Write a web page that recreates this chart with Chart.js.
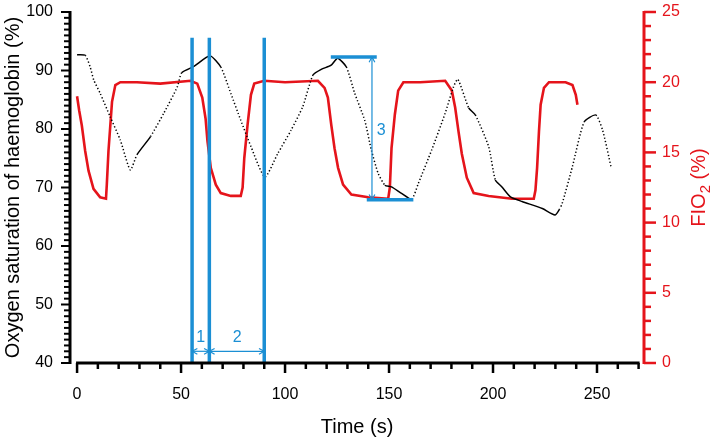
<!DOCTYPE html>
<html>
<head>
<meta charset="utf-8">
<script src="https://cdn.jsdelivr.net/npm/chart.js@4.4.0/dist/chart.umd.min.js"></script>
<style>
    body { margin: 0; background: #fff; }
</style>
</head>
<body>
<canvas id="myChart" width="722" height="440"></canvas>
<script>
// oxygen saturation (left axis)
const spo2Time = [0, 3.9, 6.3, 8, 11.1, 15.9, 20.8, 25.6, 28.8, 35.3, 41.7, 48.2, 50.3, 56.2, 63.9,
    69.1, 73.9, 78.7, 83.6, 90.3, 96.5, 102.9, 108.5, 113.4, 117.4, 122.2, 125.3, 129.5, 133.5,
    138.3, 141.5, 144.8, 148, 151.2, 156, 160.9, 164.1, 170.5, 177, 181, 183.1, 188.3, 191.5,
    197.9, 201.1, 204.3, 208.4, 214, 223.7, 229.8, 231.8, 233.3, 238.2, 243.8, 249.4, 252.7, 256.7];
const spo2Values = [92.7, 92.6, 90.6, 88.4, 86.1, 82.1, 78.1, 73.0, 75.6, 78.7, 82.7, 87.2, 89.6, 90.7, 92.5,
    90.6, 86.1, 81.5, 77.0, 71.8, 75.8, 79.8, 83.8, 89.2, 90.2, 90.9, 92.1, 90.6, 86.1,
    81.5, 76.4, 72.4, 70.4, 70.1, 69.0, 68.0, 70.7, 76.4, 82.7, 87.2, 88.5, 83.6, 82.4,
    77.0, 71.3, 70.1, 68.4, 67.6, 66.4, 65.3, 66.2, 67.3, 73.6, 81.2, 82.4, 79.8, 73.6];

// FIO2 (right axis)
const fio2Time = [0, 1, 2.3, 3.9, 5.5, 7.9, 11.1, 13.9, 14.3, 15.1, 16.8, 18.4, 20.8, 28.8, 40, 54.6,
    57.8, 60.2, 61.8, 62.7, 64.3, 66.7, 69.1, 73.9, 78.7, 79.6, 80.4, 82, 83.6, 85.2, 90, 100,
    115.8, 119, 120.6, 122.2, 123.8, 125.5, 127.9, 131.9, 140, 149.6, 150.4, 151.2, 152.8, 154.4,
    156.9, 165, 177, 180.2, 181.8, 183.4, 185, 187.4, 190.7, 197.9, 209.2, 219.6, 220.4, 221.2,
    222.1, 222.9, 224.5, 226.9, 234.9, 238.2, 239.8, 240.6];
const fio2Values = [19.0, 18.0, 16.9, 15.1, 13.7, 12.4, 11.8, 11.7, 12.7, 15.1, 18.6, 19.8, 20.0, 20.0, 19.9, 20.1,
    19.9, 18.9, 17.4, 15.8, 13.9, 12.7, 12.1, 11.9, 11.9, 12.5, 14.6, 17.0, 19.1, 19.9, 20.1, 20.0,
    20.1, 19.6, 18.9, 17.0, 15.3, 13.9, 12.7, 12.0, 11.8, 11.7, 12.5, 15.3, 17.7, 19.4,
    20.0, 20.0, 20.1, 19.4, 18.2, 16.5, 14.9, 13.2, 12.1, 11.9, 11.7, 11.7, 12.3, 13.9,
    16.5, 18.4, 19.6, 20.0, 20.0, 19.8, 19.1, 18.4];

// blue markers
const markerTimes = [55.3, 63.6, 90.0];
const markerTop = 95.6;
const barStart = [122.0, 139.3];
const barEnd = [144.1, 161.7];
const barLevel = [92.3, 67.9];

// arrows and their labels
const arrowX1 = [55.3, 63.6, 141.8];
const arrowY1 = [42, 42, 92.3];
const arrowX2 = [63.6, 90.0, 141.8];
const arrowY2 = [42, 42, 67.9];
const arrowLabels = ["1", "2", "3"];
const labelX = [59.5, 77, 146.2];
const labelY = [44.4, 44.4, 79.8];

const xTicks = [0, 50, 100, 150, 200, 250];

const RED = "#e5141b";
const BLUE = "#1b8fd4";
const FONT = "'Liberation Sans', Arial, sans-serif";

function steepDash(ctx) {
    const dx = Math.abs(ctx.p1.x - ctx.p0.x);
    const dy = Math.abs(ctx.p1.y - ctx.p0.y);
    return dy > 1.5 * dx ? [1.3, 2.2] : undefined;
}

// drop the label overflow padding so the plot area sits where the original does
function noEndPadding(scale) {
    scale.paddingTop = 0;
    scale.paddingBottom = 0;
}

const datasets = [];

markerTimes.forEach(t => {
    datasets.push({
        data: [{x: t, y: 40}, {x: t, y: markerTop}],
        borderColor: BLUE, borderWidth: 3.5, pointRadius: 0, yAxisID: "y", order: 0
    });
});
barStart.forEach((s, i) => {
    datasets.push({
        data: [{x: s, y: barLevel[i]}, {x: barEnd[i], y: barLevel[i]}],
        borderColor: BLUE, borderWidth: 3.5, pointRadius: 0, yAxisID: "y", order: 0
    });
});

datasets.push({
    label: "SpO2",
    data: spo2Time.map((t, i) => ({x: t, y: spo2Values[i]})),
    borderColor: "#000", borderWidth: 1.5, pointRadius: 0, tension: 0.2,
    yAxisID: "y", order: 1,
    segment: { borderDash: steepDash }
});
datasets.push({
    label: "FIO2",
    data: fio2Time.map((t, i) => ({x: t, y: fio2Values[i]})),
    borderColor: RED, borderWidth: 2.6, pointRadius: 0,
    yAxisID: "y1", order: 2
});

function arrowHead(ctx, x, y, angle) {
    const len = 6;
    ctx.beginPath();
    ctx.moveTo(x + len * Math.cos(angle + 0.5), y + len * Math.sin(angle + 0.5));
    ctx.lineTo(x, y);
    ctx.lineTo(x + len * Math.cos(angle - 0.5), y + len * Math.sin(angle - 0.5));
    ctx.stroke();
}

const axesPlugin = {
    id: "axesPlugin",
    afterDatasetsDraw(chart) {
        const ctx = chart.ctx;
        const x = chart.scales.x, y = chart.scales.y, y1 = chart.scales.y1;
        const area = chart.chartArea;
        ctx.save();

        // arrows
        ctx.strokeStyle = BLUE;
        ctx.lineWidth = 1.2;
        arrowX1.forEach((ax, i) => {
            const px1 = x.getPixelForValue(ax), py1 = y.getPixelForValue(arrowY1[i]);
            const px2 = x.getPixelForValue(arrowX2[i]), py2 = y.getPixelForValue(arrowY2[i]);
            const a = Math.atan2(py2 - py1, px2 - px1);
            ctx.beginPath();
            ctx.moveTo(px1, py1);
            ctx.lineTo(px2, py2);
            ctx.stroke();
            arrowHead(ctx, px1, py1, a);
            arrowHead(ctx, px2, py2, a + Math.PI);
        });
        ctx.fillStyle = BLUE;
        ctx.font = "16px " + FONT;
        ctx.textAlign = "center";
        ctx.textBaseline = "middle";
        arrowLabels.forEach((txt, i) => {
            ctx.fillText(txt, x.getPixelForValue(labelX[i]), y.getPixelForValue(labelY[i]));
        });

        // left axis
        ctx.strokeStyle = "#000";
        ctx.lineWidth = 3;
        ctx.beginPath();
        ctx.moveTo(area.left, y.getPixelForValue(40) + 1);
        ctx.lineTo(area.left, y.getPixelForValue(100) - 1);
        ctx.stroke();
        ctx.lineWidth = 2;
        for (let v = 40; v <= 100; v++) {
            const py = y.getPixelForValue(v);
            const len = v % 10 === 0 ? 9 : 6;
            ctx.beginPath();
            ctx.moveTo(area.left, py);
            ctx.lineTo(area.left - len, py);
            ctx.stroke();
        }

        // bottom axis
        const by = area.bottom;
        ctx.lineWidth = 3;
        ctx.beginPath();
        ctx.moveTo(x.getPixelForValue(0) - 1, by);
        ctx.lineTo(x.getPixelForValue(270) + 1, by);
        ctx.stroke();
        ctx.lineWidth = 2.5;
        for (let t = 0; t <= 270; t += 10) {
            const px = x.getPixelForValue(t);
            const len = t % 50 === 0 ? 10 : 6;
            ctx.beginPath();
            ctx.moveTo(px, by);
            ctx.lineTo(px, by + len);
            ctx.stroke();
        }

        // right axis
        ctx.strokeStyle = RED;
        ctx.lineWidth = 3;
        ctx.beginPath();
        ctx.moveTo(area.right, y1.getPixelForValue(0) + 1);
        ctx.lineTo(area.right, y1.getPixelForValue(25) - 1);
        ctx.stroke();
        ctx.lineWidth = 2.5;
        for (let v = 0; v <= 25; v++) {
            const py = y1.getPixelForValue(v);
            const len = v % 5 === 0 ? 12 : 7;
            ctx.beginPath();
            ctx.moveTo(area.right, py);
            ctx.lineTo(area.right + len, py);
            ctx.stroke();
        }

        // right title with subscript
        ctx.fillStyle = RED;
        const big = "20px " + FONT, small = "15px " + FONT;
        ctx.font = big;
        const w1 = ctx.measureText("FIO").width;
        const w3 = ctx.measureText(" (%)").width;
        ctx.font = small;
        const w2 = ctx.measureText("2").width;
        const total = w1 + w2 + w3;
        ctx.translate(705, (area.top + area.bottom) / 2);
        ctx.rotate(-Math.PI / 2);
        ctx.textAlign = "left";
        ctx.textBaseline = "alphabetic";
        ctx.font = big;
        ctx.fillText("FIO", -total / 2, 0);
        ctx.font = small;
        ctx.fillText("2", -total / 2 + w1, 5);
        ctx.font = big;
        ctx.fillText(" (%)", -total / 2 + w1 + w2, 0);
        ctx.restore();
    }
};

const config = {
    type: "line",
    data: { datasets: datasets },
    options: {
        responsive: false,
        animation: false,
        devicePixelRatio: 1,
        layout: { padding: { top: 12, left: 0, right: 0, bottom: 0 } },
        plugins: {
            legend: { display: false },
            tooltip: { enabled: false }
        },
        scales: {
            x: {
                type: "linear",
                min: -3.4,
                max: 272.6,
                grid: { display: false, drawTicks: false },
                border: { display: false },
                afterBuildTicks: scale => { scale.ticks = xTicks.map(v => ({value: v})); },
                afterFit: scale => { scale.height = 77; },
                ticks: { color: "#000", font: { family: FONT, size: 16 }, padding: 22, maxRotation: 0 },
                title: { display: true, text: "Time (s)", color: "#000", font: { family: FONT, size: 20 }, padding: { top: 0, bottom: 1 } }
            },
            y: {
                type: "linear",
                position: "left",
                min: 40,
                max: 100,
                grid: { display: false, drawTicks: false },
                border: { display: false },
                afterFit: scale => { scale.width = 70; noEndPadding(scale); },
                ticks: { stepSize: 10, color: "#000", font: { family: FONT, size: 16 }, padding: 17 },
                title: { display: true, text: "Oxygen saturation of haemoglobin (%)", color: "#000", font: { family: FONT, size: 20 }, padding: { top: 1, bottom: 0 } }
            },
            y1: {
                type: "linear",
                position: "right",
                min: 0,
                max: 25,
                grid: { display: false, drawTicks: false },
                border: { display: false },
                afterFit: scale => { scale.width = 78; noEndPadding(scale); },
                ticks: { stepSize: 5, color: RED, font: { family: FONT, size: 16 }, padding: 18 }
            }
        }
    },
    plugins: [axesPlugin]
};

var myChart = new Chart(document.getElementById("myChart"), config);
</script>
</body>
</html>
